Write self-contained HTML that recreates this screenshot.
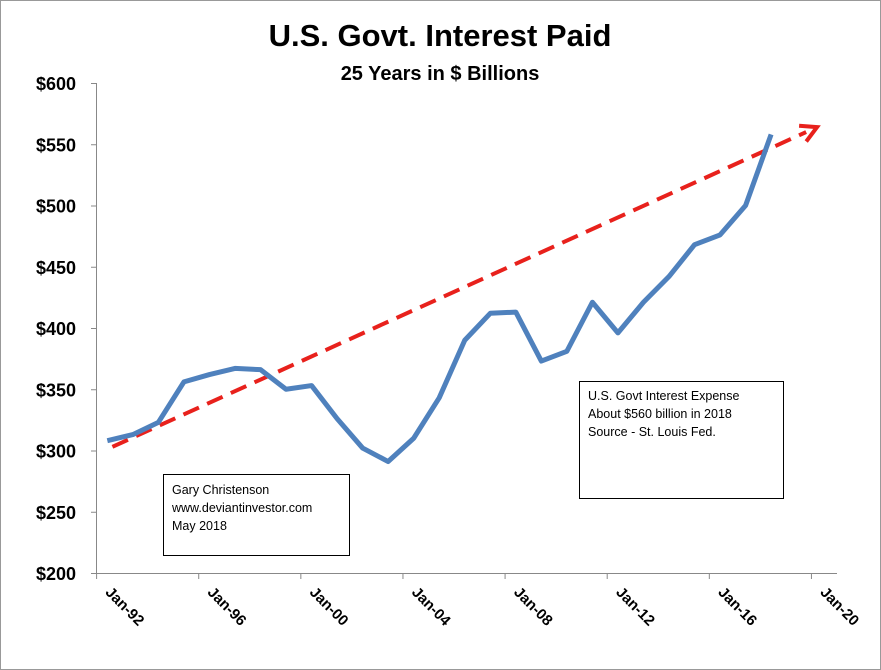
<!DOCTYPE html>
<html><head><meta charset="utf-8"><style>
body{margin:0;background:#fff;}
svg{display:block;font-family:"Liberation Sans",sans-serif;}
</style></head><body>
<svg id="chart" width="881" height="670">
<rect x="0.5" y="0.5" width="880" height="669" fill="#fff" stroke="#999"/>
<text x="440" y="46" text-anchor="middle" font-size="31" font-weight="bold">U.S. Govt. Interest Paid</text>
<text x="440" y="80" text-anchor="middle" font-size="20" font-weight="bold">25 Years in $ Billions</text>
<g id="axes"></g>
<g id="marks"></g>
<rect x="163.5" y="474.5" width="186" height="81" fill="#fff" stroke="#000"/>
<text font-size="12.5"><tspan x="172" y="494">Gary Christenson</tspan><tspan x="172" y="512">www.deviantinvestor.com</tspan><tspan x="172" y="530">May 2018</tspan></text>
<rect x="579.5" y="381.5" width="204" height="117" fill="#fff" stroke="#000"/>
<text font-size="12.5"><tspan x="588" y="400">U.S. Govt Interest Expense</tspan><tspan x="588" y="418">About $560 billion in 2018</tspan><tspan x="588" y="436">Source - St. Louis Fed.</tspan></text>
</svg>
<script>
const years=[1992,1993,1994,1995,1996,1997,1998,1999,2000,2001,2002,2003,2004,2005,2006,2007,2008,2009,2010,2011,2012,2013,2014,2015,2016,2017,2018];
const interest=[308,313,323,356,362,367,366,350,353,326,302,291,310,343,390,412,413,373,381,421,396,421,442,468,476,500,558];
const yTicks=[200,250,300,350,400,450,500,550,600];
const xTickYears=[1992,1996,2000,2004,2008,2012,2016,2020];
const xTickLabels=["Jan-92","Jan-96","Jan-00","Jan-04","Jan-08","Jan-12","Jan-16","Jan-20"];
const trendStart=[1992.2,303];
const trendEnd=[2019.8,564];
const NS="http://www.w3.org/2000/svg";
function X(yr){return 96.6+(yr-1992)*25.53;}
function Xd(yr){return X(yr+0.42);}
function Y(v){return 573-(v-200)*1.225;}
function mk(tag,attrs,parent){const e=document.createElementNS(NS,tag);for(const k in attrs)e.setAttribute(k,attrs[k]);parent.appendChild(e);return e;}
const ax=document.getElementById('axes'),mg=document.getElementById('marks');
let l=mk('line',{x1:96.5,y1:83,x2:96.5,y2:573,stroke:'#888'},ax);


l=mk('line',{x1:96,y1:573.5,x2:837,y2:573.5,stroke:'#888'},ax);


yTicks.forEach(v=>{
  const t=mk('line',{x1:91,x2:97,y1:Y(v)+0.5,y2:Y(v)+0.5,stroke:'#888'},ax);
  
  
  const tx=mk('text',{x:76,y:Y(v)+7,'text-anchor':'end','font-size':18,'font-weight':'bold'},ax);
  tx.textContent='$'+v;
  
  
});
xTickYears.forEach((yr,i)=>{
  const x=X(yr);
  const t=mk('line',{x1:x,x2:x,y1:573,y2:579,stroke:'#888'},ax);
  
  
  const tx=mk('text',{x:0,y:0,'font-size':15,'font-weight':'bold',transform:`translate(${x+8},${593}) rotate(45)`},ax);
  tx.textContent=xTickLabels[i];
  
  
});
const x1=Xd(trendStart[0]),y1=Y(trendStart[1]),x2=Xd(trendEnd[0]),y2=Y(trendEnd[1]);
const ang=Math.atan2(y2-y1,x2-x1);
const tr=mk('line',{x1:x1,y1:y1,x2:x2-12*Math.cos(ang),y2:y2-12*Math.sin(ang),stroke:'#e8211c','stroke-width':4,'stroke-dasharray':'17,9'},mg);


const hx=x2,hy=y2,s=18;
const p1=[hx-s*Math.cos(ang-0.5),hy-s*Math.sin(ang-0.5)],p2=[hx-s*Math.cos(ang+0.5),hy-s*Math.sin(ang+0.5)];
const ah=mk('polyline',{points:`${p1} ${hx},${hy} ${p2}`,fill:'none',stroke:'#e8211c','stroke-width':4},mg);


const pts=years.map((yr,i)=>Xd(yr)+','+Y(interest[i])).join(' ');
const pl=mk('polyline',{points:pts,fill:'none',stroke:'#4f81bd','stroke-width':5,'stroke-linejoin':'round'},mg);


</script>
</body></html>
